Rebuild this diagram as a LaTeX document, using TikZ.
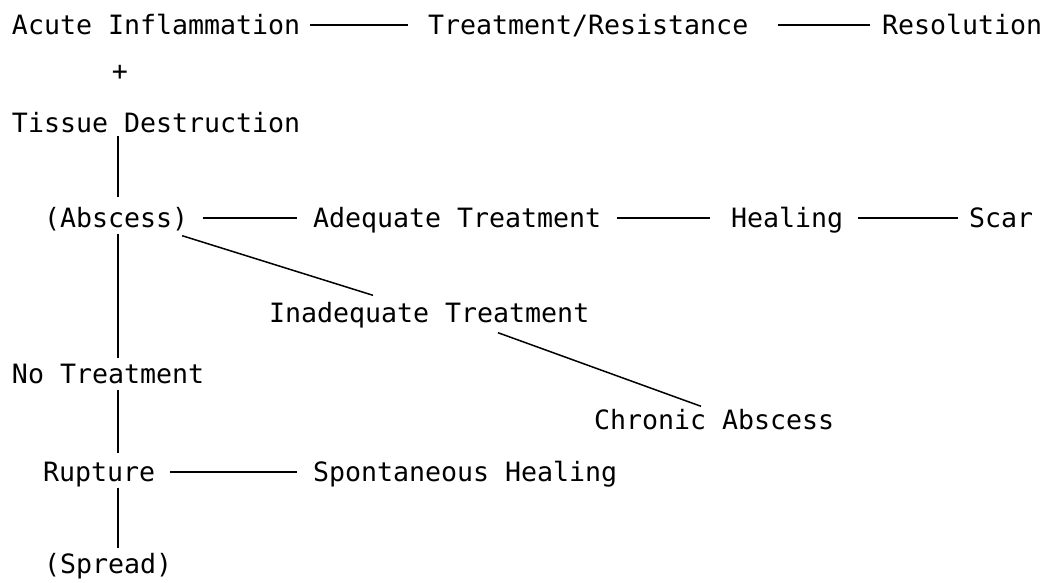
\documentclass[tikz,border=0pt]{standalone}
\usepackage{fontspec}
\setmonofont{DejaVu Sans Mono}
\usepackage{tikz}
\usetikzlibrary{positioning}

\begin{document}
\begin{tikzpicture}[
    x=1pt, y=-1pt,
    stage/.style={font=\ttfamily\fontsize{26.6}{30}\selectfont, inner sep=0pt, outer sep=0pt, text height=19.4pt, text depth=0pt, anchor=west},
    link/.style={line width=1.5pt, shorten <=6pt, shorten >=6pt}
]
\useasboundingbox (0,0) rectangle (1058,582);

\coordinate (spine) at (118,0);

\node[stage] (acute) at (12,25) {Acute Inflammation};
\node[stage] (treat) at (428,25) {Treatment/Resistance};
\node[stage] (resol) at (882,25) {Resolution};
\node[stage, anchor=center] (plus) at (120,71) {+};
\node[stage] (tissue) at (12,123) {Tissue Destruction};
\node[stage] (abscess) at (44,218) {(Abscess)};
\node[stage] (adequate) at (313,218) {Adequate Treatment};
\node[stage] (healing) at (731,218) {Healing};
\node[stage] (scar) at (969,218) {Scar};
\node[stage] (inadeq) at (269,313) {Inadequate Treatment};
\node[stage] (chronic) at (594,420) {Chronic Abscess};
\node[stage] (notreat) at (12,374) {No Treatment};
\node[stage] (rupture) at (43,472) {Rupture};
\node[stage] (spont) at (313,472) {Spontaneous Healing};
\node[stage] (spread) at (44,564) {(Spread)};

% top row
\draw[link, shorten <=10pt, shorten >=20pt] (acute) -- (treat);
\draw[link, shorten <=30pt, shorten >=12pt] (treat) -- (resol);

% abscess row
\draw[link, shorten <=15pt, shorten >=16pt] (abscess) -- (adequate);
\draw[link, shorten <=16pt, shorten >=21pt] (adequate) -- (healing);
\draw[link, shorten <=15pt, shorten >=11pt] (healing) -- (scar);

% inadequate branch
\draw[link, shorten <=0pt, shorten >=0pt] ([shift={(-6,8)}]abscess.south east) -- ([shift={(104,-8)}]inadeq.north west);
\draw[link, shorten <=0pt, shorten >=0pt] ([shift={(229,10)}]inadeq.south west) -- ([shift={(107,-4)}]chronic.north west);

% left spine
\draw[link, shorten <=3pt, shorten >=11pt] (tissue.south -| spine) -- (abscess.north -| spine);
\draw[link] (abscess.south -| spine) -- (notreat.north -| spine);
\draw[link, shorten >=9pt] (notreat.south -| spine) -- (rupture.north -| spine);
\draw[link] (rupture.south -| spine) -- (spread.north -| spine);
\draw[link, shorten <=15pt, shorten >=16pt] (rupture) -- (spont);

\end{tikzpicture}
\end{document}
